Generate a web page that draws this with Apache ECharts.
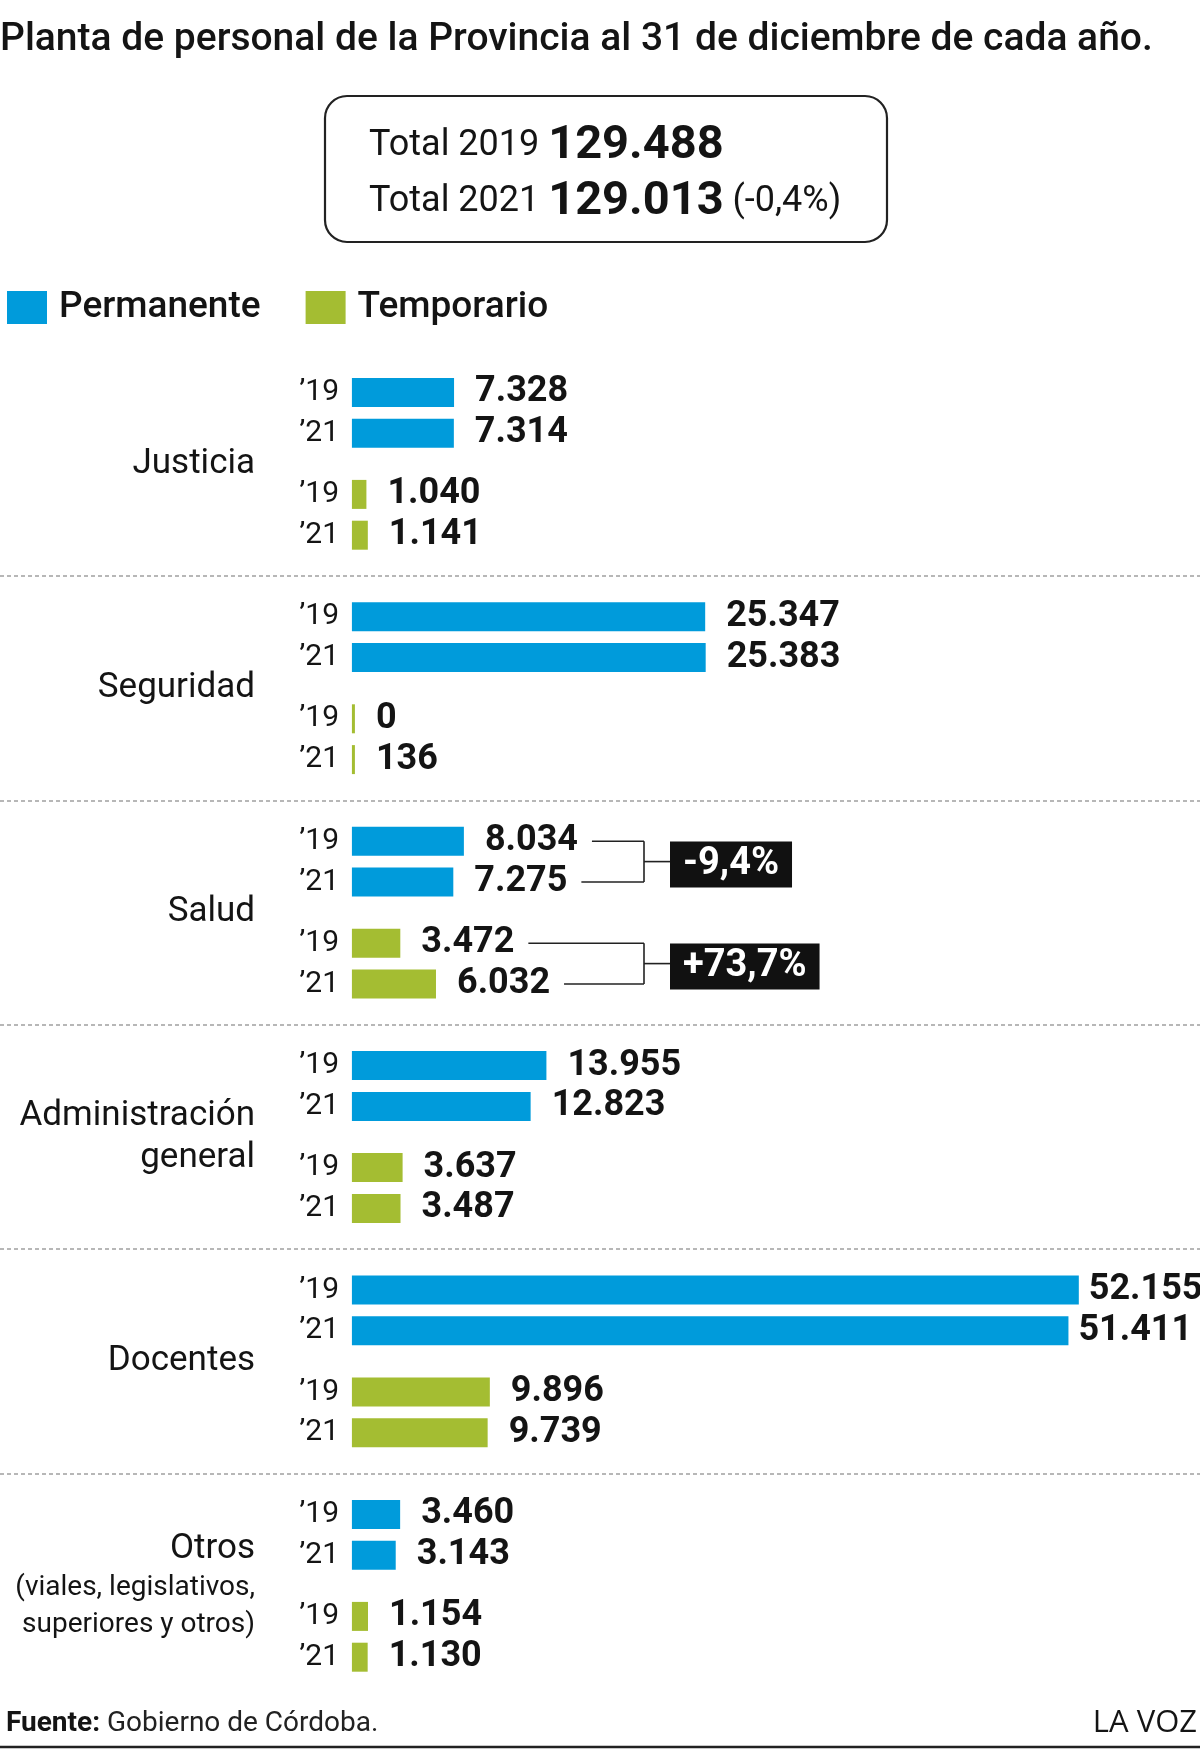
<!DOCTYPE html>
<html>
<head>
<meta charset="utf-8">
<script src="https://cdn.jsdelivr.net/npm/echarts@6/dist/echarts.min.js"></script>
<style>
  html, body { margin: 0; padding: 0; background: #fff; }
  #chart { width: 1200px; height: 1752px; }
</style>
</head>
<body>
<div id="chart"></div>
<script>
const groups = ["Justicia", "Seguridad", "Salud", "Administración\ngeneral", "Docentes", "Otros"]
const groupNotes = ["", "", "", "", "", "(viales, legislativos,\nsuperiores y otros)"]
const perm2019 = [7328, 25347, 8034, 13955, 52155, 3460]
const perm2021 = [7314, 25383, 7275, 12823, 51411, 3143]
const temp2019 = [1040, 0, 3472, 3637, 9896, 1154]
const temp2021 = [1141, 136, 6032, 3487, 9739, 1130]
const yearLabels = ["’19", "’21"]
const totalLines = [
  ["Total 2019", "129.488", ""],
  ["Total 2021", "129.013", "(-0,4%)"]
]
const saludChanges = ["-9,4%", "+73,7%"]

const FONT = "Roboto, \"Liberation Sans\", sans-serif"
const BLUE = "#009bdb"
const GREEN = "#a4bd32"
const INK = "#141414"
const LABEL_GAP = 21

// each group uses 22 thin rows: bars sit on rows 4, 8, 14, 18, the name on row 11
const ROWS = 22
const rowNames = Array.from({ length: groups.length * ROWS }, (_, i) => "r" + i)
const permData = rowNames.map(() => "-")
const tempData = rowNames.map(() => "-")

groups.forEach((_, k) => {
  permData[k * ROWS + 4] = perm2019[k]
  permData[k * ROWS + 8] = perm2021[k]
  tempData[k * ROWS + 14] = temp2019[k]
  tempData[k * ROWS + 18] = temp2021[k]
})

function thousands(v) {
  return String(v).replace(/\B(?=(\d{3})+(?!\d))/g, ".")
}

function valueItem(v) {
  if (v === "-") return v
  // the widest bars keep their number closer so it stays on the page
  return v > 50000 ? { value: v, label: { distance: 10 } } : v
}

function groupLabel(index) {
  if (index % ROWS !== 11) return ""
  const k = Math.floor(index / ROWS)
  const lines = groups[k].split("\n").map((t) => "{a|" + t + "}")
  if (groupNotes[k]) groupNotes[k].split("\n").forEach((t) => lines.push("{b|" + t + "}"))
  return lines.join("\n")
}

function yearLabel(index) {
  const r = index % ROWS
  if (r === 4 || r === 14) return yearLabels[0]
  if (r === 8 || r === 18) return yearLabels[1]
  return ""
}

const valueLabel = {
  show: true,
  position: "right",
  distance: LABEL_GAP,
  formatter: (p) => thousands(p.value),
  fontFamily: FONT,
  fontWeight: "bold",
  fontSize: 36,
  color: INK
}

const chart = echarts.init(document.getElementById("chart"), null, { renderer: "canvas" })

chart.setOption({
  animation: false,
  backgroundColor: "#fff",
  title: {
    text: "Planta de personal de la Provincia al 31 de diciembre de cada año.",
    left: 0,
    top: 21,
    padding: 0,
    textStyle: { fontFamily: FONT, fontSize: 39, fontWeight: 500, color: INK }
  },
  legend: {
    left: 7,
    top: 289,
    padding: 0,
    icon: "rect",
    itemWidth: 40,
    itemHeight: 33,
    itemGap: 45,
    selectedMode: false,
    data: ["Permanente", "Temporario"],
    textStyle: { fontFamily: FONT, fontSize: 37, fontWeight: 500, color: INK, padding: [0, 0, 0, 7] }
  },
  grid: { left: 0, right: 0, top: 346.5, bottom: 59.1, containLabel: false, outerBoundsMode: "none" },
  xAxis: {
    type: "value",
    min: -25250,
    max: 60850,
    show: false
  },
  yAxis: [
    {
      type: "category",
      data: rowNames,
      inverse: true,
      position: "left",
      axisLine: { show: false },
      axisTick: { show: false },
      splitLine: { show: false },
      axisLabel: {
        inside: true,
        align: "right",
        margin: 255,
        interval: 0,
        formatter: (_, i) => groupLabel(i),
        rich: {
          a: { fontFamily: FONT, fontSize: 35, lineHeight: 42, color: INK, align: "right" },
          b: { fontFamily: FONT, fontSize: 28, lineHeight: 37, color: INK, align: "right" }
        }
      }
    },
    {
      type: "category",
      data: rowNames,
      inverse: true,
      position: "left",
      axisLine: { show: false },
      axisTick: { show: false },
      splitLine: { show: false },
      axisLabel: {
        inside: true,
        align: "right",
        margin: 339,
        interval: 0,
        formatter: (_, i) => yearLabel(i),
        fontFamily: FONT,
        fontSize: 30,
        color: INK
      }
    }
  ],
  series: [
    {
      name: "Permanente",
      type: "bar",
      data: permData.map(valueItem),
      barWidth: 29,
      barGap: "-100%",
      itemStyle: { color: BLUE },
      label: valueLabel,
      markLine: {
        silent: true,
        symbol: ["none", "none"],
        label: { show: false },
        lineStyle: { color: "#a0a0a0", type: [4, 3], width: 1.5 },
        data: [1, 2, 3, 4, 5].map((k) => ({ yAxis: k * ROWS }))
      }
    },
    {
      name: "Temporario",
      type: "bar",
      data: tempData.map(valueItem),
      barWidth: 29,
      barGap: "-100%",
      barMinHeight: 3,
      itemStyle: { color: GREEN },
      label: valueLabel
    }
  ]
})

// annotations and framing, placed from the chart's own scales
const measure = document.createElement("canvas").getContext("2d")
measure.font = "bold 36px " + FONT

function labelEnd(value, row) {
  const [x, y] = chart.convertToPixel({ gridIndex: 0 }, [value, row])
  return [x + LABEL_GAP + measure.measureText(thousands(value)).width, y]
}

const saludIndex = 2
const pairs = [
  [[perm2019[saludIndex], saludIndex * ROWS + 4], [perm2021[saludIndex], saludIndex * ROWS + 8]],
  [[temp2019[saludIndex], saludIndex * ROWS + 14], [temp2021[saludIndex], saludIndex * ROWS + 18]]
]
const bracketX = 644
const boxX = 670
const lineStyle = { stroke: "#222", lineWidth: 1.6 }
const graphics = []

pairs.forEach((pair, i) => {
  const [a, b] = pair.map(([v, r]) => labelEnd(v, r))
  const mid = (a[1] + b[1]) / 2
  graphics.push(
    { type: "line", shape: { x1: a[0] + 14, y1: a[1], x2: bracketX, y2: a[1] }, style: lineStyle },
    { type: "line", shape: { x1: b[0] + 14, y1: b[1], x2: bracketX, y2: b[1] }, style: lineStyle },
    { type: "line", shape: { x1: bracketX, y1: a[1], x2: bracketX, y2: b[1] }, style: lineStyle },
    { type: "line", shape: { x1: bracketX, y1: mid, x2: boxX, y2: mid }, style: lineStyle },
    {
      type: "text",
      x: boxX,
      y: mid + 3,
      style: {
        text: saludChanges[i],
        fontFamily: FONT,
        fontWeight: "bold",
        fontSize: 38,
        fill: "#fff",
        backgroundColor: "#111",
        padding: [5, 13, 3, 13],
        verticalAlign: "middle",
        align: "left"
      }
    }
  )
})

graphics.push({
  type: "rect",
  shape: { x: 325, y: 96, width: 562, height: 146, r: 22 },
  style: { fill: "none", stroke: "#222", lineWidth: 2.2 }
})

totalLines.forEach((line, i) => {
  graphics.push({
    type: "text",
    x: 369,
    y: 146 + i * 56,
    style: {
      text: "{r|" + line[0] + " }{b|" + line[1] + "}" + (line[2] ? "{r| " + line[2] + "}" : ""),
      verticalAlign: "middle",
      rich: {
        r: { fontFamily: FONT, fontSize: 36, fill: INK },
        b: { fontFamily: FONT, fontSize: 47, fontWeight: "bold", fill: INK }
      }
    }
  })
})

graphics.push(
  {
    type: "text",
    x: 6,
    y: 1724,
    style: {
      text: "{b|Fuente:}{r| Gobierno de Córdoba.}",
      verticalAlign: "middle",
      rich: {
        b: { fontFamily: FONT, fontSize: 28, fontWeight: "bold", fill: INK },
        r: { fontFamily: FONT, fontSize: 28, fill: "#222" }
      }
    }
  },
  {
    type: "text",
    x: 1197,
    y: 1723,
    style: {
      text: "LA VOZ",
      fontFamily: '"Open Sans", sans-serif',
      fontSize: 31,
      fill: INK,
      align: "right",
      verticalAlign: "middle"
    }
  },
  {
    type: "line",
    shape: { x1: 0, y1: 1747, x2: 1200, y2: 1747 },
    style: { stroke: "#222", lineWidth: 2.5 }
  }
)

chart.setOption({ graphic: graphics })
</script>
</body>
</html>
